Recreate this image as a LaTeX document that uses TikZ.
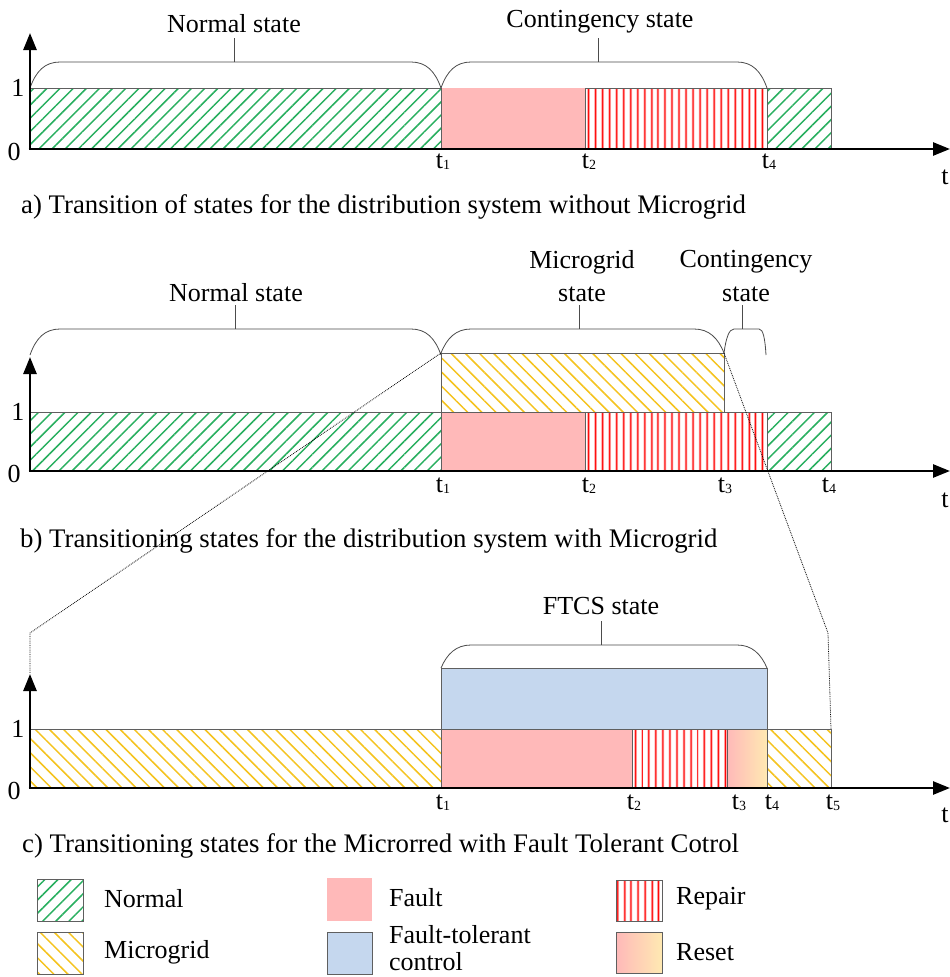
\documentclass[tikz,border=0pt]{standalone}
\usepackage{fontspec}
\setmainfont{Liberation Serif}
\usetikzlibrary{patterns.meta,arrows.meta}
\definecolor{hatchgreen}{RGB}{40,175,95}
\definecolor{hatchyellow}{RGB}{245,195,30}
\definecolor{faultpink}{RGB}{255,185,185}
\definecolor{ftcblue}{RGB}{197,215,238}
\definecolor{resetyellow}{RGB}{255,233,178}
\definecolor{edgegray}{RGB}{95,95,95}
\tikzset{
  lbl/.style={font=\fontsize{26}{30}\selectfont, inner sep=0pt},
  captxt/.style={font=\fontsize{26.8}{30}\selectfont, inner sep=0pt, anchor=base west},
  box/.style={draw=edgegray, line width=0.9pt},
  normalfill/.style={pattern={Lines[angle=45,distance=9.3pt,line width=1.5pt]}, pattern color=hatchgreen},
  mgfill/.style={pattern={Lines[angle=-45,distance=10pt,line width=1.5pt]}, pattern color=hatchyellow},
  repairfill/.style={pattern={Lines[angle=90,distance=7.4pt,line width=1.8pt]}, pattern color=red},
  faultfill/.style={fill=faultpink},
  ftcfill/.style={fill=ftcblue},
  resetfill/.style={left color=faultpink, right color=resetyellow},
  axisline/.style={line width=2.6pt, -{Triangle[length=17pt,width=13pt]}},
  brace/.style={draw=black!70, line width=0.8pt},
  zoomline/.style={densely dotted, line width=0.8pt},
}
% t with a small subscript index
\newcommand\tsub[1]{t\raisebox{-1pt}{\fontsize{14}{14}\selectfont #1}}
% rounded state brace: x0, x1, top y, base y
\newcommand\statebrace[4]{%
  \draw[brace] (#1,#4) .. controls (#1+6,#3+9) and (#1+15,#3) .. (#1+30,#3)
    -- (#2-30,#3) .. controls (#2-15,#3) and (#2-6,#3+9) .. (#2,#4);}
\begin{document}
\begin{tikzpicture}[x=1pt,y=-1pt]
\useasboundingbox[fill=white] (0,0) rectangle (950,977);

% ---------------- a) without microgrid ----------------
\draw[box, normalfill] (30,88) rectangle (441,149);
\draw[box, faultfill, draw=none] (441,88) rectangle (585,149);
\draw[box, repairfill] (585,88) rectangle (767,149);
\draw[box, normalfill] (767,88) rectangle (831,149);
\draw[edgegray, line width=0.9pt] (441,88) -- (441,149);

\statebrace{30}{441}{62}{88}
\draw[brace] (234,62) -- (234,38);
\node[lbl] (ans) at (234,24) {Normal state};
\statebrace{441}{767}{62}{88}
\draw[brace] (598,62) -- (598,38);
\node[lbl] (acs) at (600,22) {Contingency state};

\draw[axisline] (30,149) -- (30,33);
\draw[axisline] (28.7,149) -- (950,149);
\node[lbl] (a1) at (18,88) {1};
\node[lbl] (a0) at (14,152) {0};
\node[lbl] (at) at (945,177) {t};
\node[lbl] (at1) at (443,162) {\tsub{1}};
\node[lbl] (at2) at (589,162) {\tsub{2}};
\node[lbl] (at4) at (769,162) {\tsub{4}};
\node[captxt] (acap) at (21,213) {a) Transition of states for the distribution system without Microgrid};

% ---------------- b) with microgrid ----------------
\draw[box, normalfill] (30,412) rectangle (441,471);
\draw[box, faultfill] (441,412) rectangle (585,471);
\draw[box, repairfill] (585,412) rectangle (767,471);
\draw[box, normalfill] (767,412) rectangle (831,471);
\draw[box, mgfill] (441,353) rectangle (724,412);

\statebrace{30}{441}{329}{355}
\draw[brace] (235,329) -- (235,305);
\node[lbl] (bns) at (236,293) {Normal state};
\statebrace{441}{724}{329}{353}
\draw[brace] (579,329) -- (579,305);
\node[lbl] (bms1) at (582,262) {Microgrid};
\node[lbl] (bms2) at (582,294) {state};
\draw[brace] (724,353) .. controls (726,338) and (729,329) .. (734,329)
  -- (759,329) .. controls (763,329) and (765,338) .. (766,355);
\draw[brace] (742,329) -- (742,305);
\node[lbl] (bcs1) at (746,262) {Contingency};
\node[lbl] (bcs2) at (746,294) {state};

\draw[axisline] (30,471) -- (30,357);
\draw[axisline] (28.7,471) -- (950,471);
\node[lbl] (b1) at (18,412) {1};
\node[lbl] (b0) at (14,474) {0};
\node[lbl] (bt) at (945,500) {t};
\node[lbl] (bt1) at (443,486) {\tsub{1}};
\node[lbl] (bt2) at (589,486) {\tsub{2}};
\node[lbl] (bt3) at (725,486) {\tsub{3}};
\node[lbl] (bt4) at (829,486) {\tsub{4}};
\node[captxt] (bcap) at (20,547) {b) Transitioning states for the distribution system with Microgrid};

% zoom guide lines from the microgrid block down to panel c
\coordinate (zl0) at (441,353);
\coordinate (zl1) at (30,633);
\coordinate (zl2) at (30,673);
\coordinate (zr0) at (724,353);
\coordinate (zr1) at (828,633);
\coordinate (zr2) at (831,729);
\draw[zoomline] (zl0) -- (zl1) -- (zl2);
\draw[zoomline] (zr0) -- (zr1) -- (zr2);

% ---------------- c) microgrid with fault-tolerant control ----------------
\draw[box, mgfill] (30,729) rectangle (441,788);
\draw[box, faultfill] (441,729) rectangle (632,788);
\draw[box, repairfill] (632,729) rectangle (727,788);
\shade[resetfill] (727,729) rectangle (767,788);
\draw[box] (727,729) rectangle (767,788);
\draw[box, mgfill] (767,729) rectangle (831,788);
\draw[box, ftcfill] (441,668) rectangle (767,729);

\statebrace{441}{767}{645}{668}
\draw[brace] (601,645) -- (601,621);
\node[lbl] (cfs) at (601,606) {FTCS state};

\draw[axisline] (30,788) -- (30,674);
\draw[axisline] (28.7,788) -- (950,788);
\node[lbl] (c1) at (18,729) {1};
\node[lbl] (c0) at (14,791) {0};
\node[lbl] (ct) at (945,815) {t};
\node[lbl] (ct1) at (443,803) {\tsub{1}};
\node[lbl] (ct2) at (634,803) {\tsub{2}};
\node[lbl] (ct3) at (739,803) {\tsub{3}};
\node[lbl] (ct4) at (772,803) {\tsub{4}};
\node[lbl] (ct5) at (833,803) {\tsub{5}};
\node[captxt] (ccap) at (22,852) {c) Transitioning states for the Microrred with Fault Tolerant Cotrol};

% ---------------- legend ----------------
\draw[box, normalfill] (37,879) rectangle (83,921);
\node[lbl, anchor=west] (lnormal) at (104,899) {Normal};
\draw[box, mgfill] (37,932) rectangle (83,974);
\node[lbl, anchor=west] (lmg) at (104,952) {Microgrid};
\fill[faultfill] (327,878) rectangle (372,921);
\node[lbl, anchor=west] (lfault) at (389,898) {Fault};
\draw[box, ftcfill] (327,932) rectangle (372,974);
\node[lbl, anchor=west] (lftc1) at (389,935) {Fault-tolerant};
\node[lbl, anchor=west] (lftc2) at (389,962) {control};
\draw[box, repairfill] (616,880) rectangle (662,921);
\node[lbl, anchor=west] (lrep) at (676,899) {Repair};
\shade[resetfill] (616,932) rectangle (662,973);
\draw[box] (616,932) rectangle (662,973);
\node[lbl, anchor=west] (lreset) at (676,952) {Reset};
\end{tikzpicture}
\end{document}
